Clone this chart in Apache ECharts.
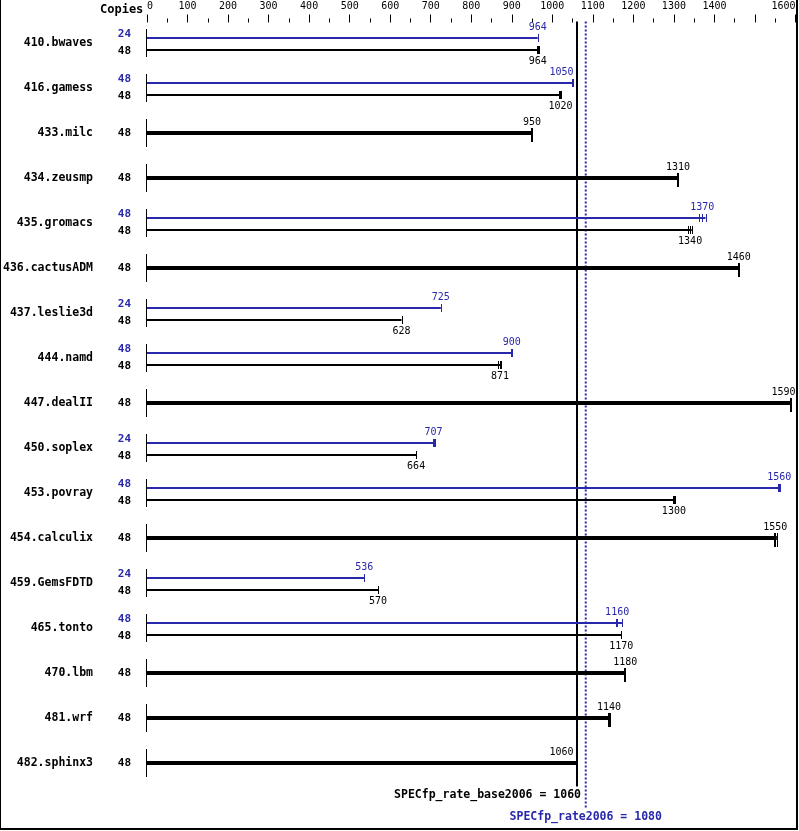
<!DOCTYPE html>
<html><head><meta charset="utf-8">
<script src="https://cdn.jsdelivr.net/npm/echarts@6/dist/echarts.min.js"></script>
<style>
html,body{margin:0;padding:0;background:#fff}
#c{width:799px;height:831px}
#f{position:absolute;left:0;top:0;width:795px;height:828px;border-left:1px solid #000;border-right:2px solid #000;border-bottom:2px solid #000;pointer-events:none}
</style>
</head><body><div id="c"></div><div id="f"></div>
<script>
const benchmarks = ['410.bwaves','416.gamess','433.milc','434.zeusmp','435.gromacs','436.cactusADM','437.leslie3d','444.namd','447.dealII','450.soplex','453.povray','454.calculix','459.GemsFDTD','465.tonto','470.lbm','481.wrf','482.sphinx3'];
const peakCopies = [24,48,null,null,48,null,24,48,null,24,48,null,24,48,null,null,null];
const baseCopies = [48,48,48,48,48,48,48,48,48,48,48,48,48,48,48,48,48];
const peakValues = [964,1050,null,null,1370,null,725,900,null,707,1560,null,536,1160,null,null,null];
const peakRunMin = [964,1048,null,null,1363,null,725,899,null,705,1558,null,536,1156,null,null,null];
const peakRunMax = [964,1052,null,null,1378,null,725,901,null,711,1562,null,536,1172,null,null,null];
const baseValues = [964,1020,950,1310,1340,1460,628,871,1590,664,1300,1550,570,1170,1180,1140,1060];
const baseRunMin = [962,1016,950,1310,1336,1460,628,866,1590,664,1298,1547,570,1170,1180,1137,1060];
const baseRunMax = [966,1022,950,1310,1344,1460,628,873,1590,664,1302,1554,570,1170,1180,1143,1060];
const baseScore = 1060, peakScore = 1080;
const baseLabel = 'SPECfp_rate_base2006 = 1060';
const peakLabel = 'SPECfp_rate2006 = 1080';
const axisMin = 0, axisMax = 1600, axisStep = 100, hiddenTick = 1500;

const BLUE = '#2828aa', MONO = '"DejaVu Sans Mono", monospace';
const VALFONT = '10px ' + MONO;

const chart = echarts.init(document.getElementById('c'), null, {renderer:'canvas'});

function renderRow(params, api) {
  const i = params.dataIndex;
  const cs = params.coordSys;
  const c0 = api.coord([0, i]);
  const x0 = Math.round(c0[0]), yc = Math.round(c0[1]);
  const X = v => api.coord([v, i])[0];
  const right = cs.x + cs.width;
  const baseLineX = api.coord([baseScore, i])[0];
  const peakLineX = api.coord([peakScore, i])[0];
  const els = [];
  els.push({type:'line', shape:{x1:x0-0.5,y1:yc-14,x2:x0-0.5,y2:yc+14}, style:{stroke:'#000',lineWidth:1}});
  function bar(v, lo, hi, yTop, h, tTop, tBot, color, singleW) {
    const xv = X(v), xl = X(lo), xh = X(hi);
    els.push({type:'rect', shape:{x:x0, y:yTop, width:Math.max(xv, xh) - x0, height:h}, style:{fill:color}});
    const same = (lo === hi && lo === v);
    const ticks = same ? [xv] : [xl, xv, xh];
    const w = same ? singleW : 1;
    ticks.forEach(t => {
      els.push({type:'rect', shape:{x:Math.round(t) - (w>1?1:0), y:tTop, width:w, height:tBot - tTop}, style:{fill:color}});
    });
  }
  function label(v, y, color) {
    let x = X(v), align = 'center';
    const overlaps = [baseLineX, peakLineX].some(lx => lx > x - 13 && lx < x + 13);
    if (overlaps) { x = Math.min(x + 2, baseLineX - 3); align = 'right'; }
    else if (x + 13 > right) { x = right; align = 'right'; }
    els.push({type:'text', x:x, y:y, style:{text:String(v), fill:color, font:VALFONT, align:align, verticalAlign:'middle'}});
  }
  if (peakValues[i] != null) {
    bar(peakValues[i], peakRunMin[i], peakRunMax[i], yc-6, 2, yc-9, yc-1, BLUE, 1);
    label(peakValues[i], yc-16, BLUE);
    bar(baseValues[i], baseRunMin[i], baseRunMax[i], yc+6, 2, yc+3, yc+11, '#000', 1);
    label(baseValues[i], yc+18, '#000');
  } else {
    bar(baseValues[i], baseRunMin[i], baseRunMax[i], yc-2, 4, yc-5, yc+9, '#000', 2);
    label(baseValues[i], yc-11, '#000');
  }
  return {type:'group', children:els};
}

function renderRef(params, api) {
  const cs = params.coordSys;
  const v = api.value(0);
  const x = api.coord([v, 0])[0];
  const top = cs.y + 1, bot = cs.y + cs.height;
  if (params.dataIndex === 0) {
    return {type:'group', children:[
      {type:'rect', shape:{x:Math.round(x)-1, y:top, width:2, height:bot + 1 - top}, style:{fill:'#000'}},
      {type:'text', x:Math.round(x)+4, y:bot+9.5, style:{text:baseLabel, fill:'#000', font:'bold 11.5px ' + MONO, align:'right', verticalAlign:'middle'}}
    ]};
  }
  return {type:'group', children:[
    {type:'line', shape:{x1:x+1, y1:top, x2:x+1, y2:bot+22}, style:{stroke:BLUE, lineWidth:2, lineDash:[2,2]}},
    {type:'text', x:x+1, y:bot+31.5, style:{text:peakLabel, fill:BLUE, font:'bold 11.5px ' + MONO, align:'center', verticalAlign:'middle'}}
  ]};
}

const copiesLabels = benchmarks.map((b, i) => peakCopies[i] != null ? '{p|' + peakCopies[i] + '}\n{b|' + baseCopies[i] + '}' : '{b|' + baseCopies[i] + '}');

chart.setOption({
  animation:false,
  backgroundColor:'#fff',
  title:{text:'Copies', left:100, top:4, padding:0, textStyle:{fontSize:12, fontWeight:'bold', fontFamily:MONO, color:'#000'}},
  grid:{left:147, right:3.5, top:20.5, bottom:45.5, containLabel:false},
  xAxis:{type:'value', position:'top', min:axisMin, max:axisMax, interval:axisStep, offset:-2,
    axisLine:{show:false},
    axisTick:{show:true, length:8, lineStyle:{color:'#000', width:1}},
    minorTick:{show:true, splitNumber:2, length:4, lineStyle:{color:'#000', width:1}},
    splitLine:{show:false}, minorSplitLine:{show:false},
    axisLabel:{show:true, margin:11, fontSize:10, fontFamily:MONO, color:'#000', hideOverlap:false,
      showMinLabel:true, showMaxLabel:true, alignMinLabel:'left', alignMaxLabel:'right',
      formatter:v => v === hiddenTick ? '' : String(v)}},
  yAxis:[
    {type:'category', data:benchmarks, inverse:true, position:'left',
      axisLine:{show:false}, axisTick:{show:false}, splitLine:{show:false},
      axisLabel:{margin:54, fontSize:11.5, fontWeight:'bold', fontFamily:MONO, color:'#000', interval:0}},
    {type:'category', data:copiesLabels, inverse:true, position:'left', offset:0,
      axisLine:{show:false}, axisTick:{show:false}, splitLine:{show:false},
      axisLabel:{margin:16, interval:0, align:'right', formatter:v => v,
        rich:{p:{fontSize:11, fontWeight:'bold', fontFamily:MONO, color:BLUE, lineHeight:17},
              b:{fontSize:11, fontWeight:'bold', fontFamily:MONO, color:'#000', lineHeight:17}}}}
  ],
  series:[
    {type:'custom', z:1, renderItem:renderRef, data:[[baseScore, 0],[peakScore, 0]], encode:{x:0, y:1}, clip:false, silent:true},
    {type:'custom', z:2, renderItem:renderRow, data:benchmarks.map((b, i) => [baseValues[i], i]), encode:{x:0, y:1}, clip:false, silent:true}
  ]
});
</script>
</body></html>
